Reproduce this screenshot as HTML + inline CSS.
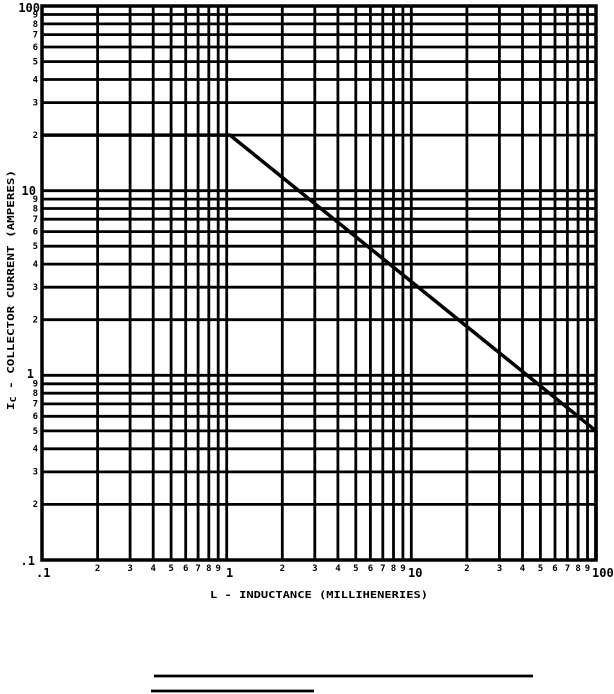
<!DOCTYPE html>
<html><head><meta charset="utf-8"><style>
html,body{margin:0;padding:0;background:#fff;}
svg{display:block;}
text{font-family:"DejaVu Sans Mono","Liberation Mono",monospace;font-weight:bold;fill:#000;}
</style></head><body>
<svg width="614" height="694" viewBox="0 0 614 694" xmlns="http://www.w3.org/2000/svg">
<g stroke="#000" stroke-width="2.8">
<line x1="97.6" y1="6" x2="97.6" y2="560"/><line x1="130.1" y1="6" x2="130.1" y2="560"/><line x1="153.2" y1="6" x2="153.2" y2="560"/><line x1="171.1" y1="6" x2="171.1" y2="560"/><line x1="185.7" y1="6" x2="185.7" y2="560"/><line x1="198.1" y1="6" x2="198.1" y2="560"/><line x1="208.8" y1="6" x2="208.8" y2="560"/><line x1="218.2" y1="6" x2="218.2" y2="560"/><line x1="226.7" y1="6" x2="226.7" y2="560"/>
<line x1="282.3" y1="6" x2="282.3" y2="560"/><line x1="314.8" y1="6" x2="314.8" y2="560"/><line x1="337.9" y1="6" x2="337.9" y2="560"/><line x1="355.8" y1="6" x2="355.8" y2="560"/><line x1="370.4" y1="6" x2="370.4" y2="560"/><line x1="382.8" y1="6" x2="382.8" y2="560"/><line x1="393.5" y1="6" x2="393.5" y2="560"/><line x1="402.9" y1="6" x2="402.9" y2="560"/><line x1="411.3" y1="6" x2="411.3" y2="560"/>
<line x1="466.9" y1="6" x2="466.9" y2="560"/><line x1="499.4" y1="6" x2="499.4" y2="560"/><line x1="522.5" y1="6" x2="522.5" y2="560"/><line x1="540.4" y1="6" x2="540.4" y2="560"/><line x1="555" y1="6" x2="555" y2="560"/><line x1="567.4" y1="6" x2="567.4" y2="560"/><line x1="578.1" y1="6" x2="578.1" y2="560"/><line x1="587.5" y1="6" x2="587.5" y2="560"/>
<line x1="42" y1="14.5" x2="596" y2="14.5"/><line x1="42" y1="23.9" x2="596" y2="23.9"/><line x1="42" y1="34.6" x2="596" y2="34.6"/><line x1="42" y1="47" x2="596" y2="47"/><line x1="42" y1="61.6" x2="596" y2="61.6"/><line x1="42" y1="79.5" x2="596" y2="79.5"/><line x1="42" y1="102.6" x2="596" y2="102.6"/><line x1="42" y1="135.1" x2="596" y2="135.1"/><line x1="42" y1="190.7" x2="596" y2="190.7"/>
<line x1="42" y1="199.1" x2="596" y2="199.1"/><line x1="42" y1="208.5" x2="596" y2="208.5"/><line x1="42" y1="219.2" x2="596" y2="219.2"/><line x1="42" y1="231.6" x2="596" y2="231.6"/><line x1="42" y1="246.2" x2="596" y2="246.2"/><line x1="42" y1="264.1" x2="596" y2="264.1"/><line x1="42" y1="287.2" x2="596" y2="287.2"/><line x1="42" y1="319.7" x2="596" y2="319.7"/><line x1="42" y1="375.3" x2="596" y2="375.3"/>
<line x1="42" y1="383.8" x2="596" y2="383.8"/><line x1="42" y1="393.2" x2="596" y2="393.2"/><line x1="42" y1="403.9" x2="596" y2="403.9"/><line x1="42" y1="416.3" x2="596" y2="416.3"/><line x1="42" y1="430.9" x2="596" y2="430.9"/><line x1="42" y1="448.8" x2="596" y2="448.8"/><line x1="42" y1="471.9" x2="596" y2="471.9"/><line x1="42" y1="504.4" x2="596" y2="504.4"/>
</g>
<rect x="42" y="6" width="554" height="554" fill="none" stroke="#000" stroke-width="3.5"/>
<polyline points="42,135.1 230,135.1 596,430.9 596,560" fill="none" stroke="#000" stroke-width="3.5"/>
<g font-size="9" text-anchor="end">
<text x="38" y="17.5">9</text><text x="38" y="27">8</text><text x="38" y="37.5">7</text><text x="38" y="50">6</text><text x="38" y="64.5">5</text><text x="38" y="82.5">4</text><text x="38" y="105.5">3</text><text x="38" y="138">2</text>
<text x="38" y="202">9</text><text x="38" y="211.5">8</text><text x="38" y="222">7</text><text x="38" y="234.5">6</text><text x="38" y="249">5</text><text x="38" y="267">4</text><text x="38" y="290">3</text><text x="38" y="322.5">2</text>
<text x="38" y="386.5">9</text><text x="38" y="396">8</text><text x="38" y="406.5">7</text><text x="38" y="419">6</text><text x="38" y="434">5</text><text x="38" y="451.5">4</text><text x="38" y="474.5">3</text><text x="38" y="507">2</text>
</g>
<g font-size="12" text-anchor="end">
<text x="40" y="12">100</text><text x="36" y="195">10</text><text x="34" y="378">1</text><text x="35" y="565">.1</text>
</g>
<g font-size="9" text-anchor="middle">
<text x="97.6" y="571">2</text><text x="130.1" y="571">3</text><text x="153.2" y="571">4</text><text x="171.1" y="571">5</text><text x="185.7" y="571">6</text><text x="198.1" y="571">7</text><text x="208.8" y="571">8</text><text x="218.2" y="571">9</text>
<text x="282.3" y="571">2</text><text x="314.8" y="571">3</text><text x="337.9" y="571">4</text><text x="355.8" y="571">5</text><text x="370.4" y="571">6</text><text x="382.8" y="571">7</text><text x="393.5" y="571">8</text><text x="402.9" y="571">9</text>
<text x="466.9" y="571">2</text><text x="499.4" y="571">3</text><text x="522.5" y="571">4</text><text x="540.4" y="571">5</text><text x="555" y="571">6</text><text x="567.4" y="571">7</text><text x="578.1" y="571">8</text><text x="587.5" y="571">9</text>
</g>
<g font-size="12">
<text x="36" y="577">.1</text><text x="226" y="577">1</text><text x="408" y="577">10</text><text x="592" y="577">100</text>
</g>
<text x="319" y="598" font-size="10" text-anchor="middle" textLength="218" lengthAdjust="spacingAndGlyphs">L - INDUCTANCE (MILLIHENERIES)</text>
<text transform="translate(14,290) rotate(-90)" font-size="10" text-anchor="middle" textLength="240" lengthAdjust="spacingAndGlyphs">I<tspan font-size="8" dy="2">C</tspan><tspan dy="-2"> - COLLECTOR CURRENT (AMPERES)</tspan></text>
<line x1="154" y1="676" x2="533" y2="676" stroke="#000" stroke-width="2.8"/>
<line x1="151" y1="691" x2="314" y2="691" stroke="#000" stroke-width="2.8"/>
</svg>
</body></html>
